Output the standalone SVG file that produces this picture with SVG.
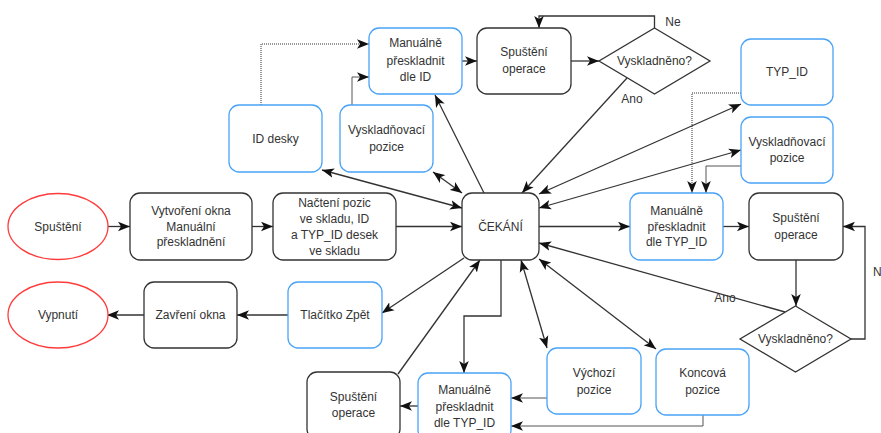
<svg xmlns="http://www.w3.org/2000/svg" width="881" height="433" viewBox="0 0 881 433">
  <style>
    .box { fill: #ffffff; stroke: #333333; stroke-width: 1.3; }
    .blue { fill: #ffffff; stroke: #4aa3f7; stroke-width: 1.3; }
    .red { fill: #ffffff; stroke: #ff3b3b; stroke-width: 1.3; }
    .t { font-family: "Liberation Sans", Arial, sans-serif; font-size: 12px; fill: #333333; text-anchor: middle; }
    .c { fill: none; stroke: #333333; stroke-width: 1.3; }
    .thin { fill: none; stroke: #555555; stroke-width: 1; }
    .dot { fill: none; stroke: #333333; stroke-width: 1; stroke-dasharray: 1 1; }
  </style>
  <defs>
    <marker id="arr" markerUnits="userSpaceOnUse" markerWidth="12" markerHeight="10" viewBox="0 0 10 8" refX="10" refY="4" orient="auto-start-reverse">
      <path d="M0,0 L10,4 L0,8 L2.5,4 Z" fill="#111111"/>
    </marker>
  </defs>
  <rect width="881" height="433" fill="#ffffff"/>

  <!-- connectors -->
  <g id="connectors">
    <path class="c" d="M108,226.5 H130" marker-end="url(#arr)"/>
    <path class="c" d="M252,226.5 H273" marker-end="url(#arr)"/>
    <path class="c" d="M396,226.5 H462" marker-end="url(#arr)"/>
    <path class="c" d="M288,315 H237" marker-end="url(#arr)"/>
    <path class="c" d="M144,315 H107" marker-end="url(#arr)"/>
    <path class="c" d="M539,226.5 H630" marker-end="url(#arr)"/>
    <path class="c" d="M723,226.5 H749" marker-end="url(#arr)"/>
    <path class="c" d="M796,260 V306" marker-end="url(#arr)"/>
    <path class="c" d="M851,339 H865 V226.5 H843" marker-end="url(#arr)"/>
    <path class="c" d="M785,312 L539,243" marker-end="url(#arr)"/>
    <path class="c" d="M462,61 H477" marker-end="url(#arr)"/>
    <path class="c" d="M571,61 H599" marker-end="url(#arr)"/>
    <path class="c" d="M654.5,28 V16 H539 V28" marker-end="url(#arr)"/>
    <path class="c" d="M627,78 L522,193" marker-end="url(#arr)"/>
    <path class="dot" d="M261,105 V44 H369" marker-end="url(#arr)"/>
    <path class="thin" d="M352,105 V77 H369" marker-end="url(#arr)"/>
    <path class="dot" d="M741,93 H692 V193" marker-end="url(#arr)"/>
    <path class="thin" d="M741,166 H706 V193" marker-end="url(#arr)"/>
    <path class="c" d="M484,193 L435,95" marker-end="url(#arr)"/>
    <path class="c" d="M322,170 L462,208" marker-start="url(#arr)" marker-end="url(#arr)"/>
    <path class="c" d="M433,172 L462,193" marker-start="url(#arr)" marker-end="url(#arr)"/>
    <path class="c" d="M539,194 L741,104" marker-start="url(#arr)" marker-end="url(#arr)"/>
    <path class="c" d="M539,208 L741,150" marker-start="url(#arr)" marker-end="url(#arr)"/>
    <path class="c" d="M521,260 L547,348" marker-start="url(#arr)" marker-end="url(#arr)"/>
    <path class="c" d="M539,259 L656,349" marker-start="url(#arr)" marker-end="url(#arr)"/>
    <path class="c" d="M464,258 L382,313" marker-end="url(#arr)"/>
    <path class="c" d="M398,374 L480,260" marker-end="url(#arr)"/>
    <path class="c" d="M501,260 V316 H464 V373" marker-end="url(#arr)"/>
    <path class="thin" d="M547,398 H511" marker-end="url(#arr)"/>
    <path class="thin" d="M703,415 V426 H511" marker-end="url(#arr)"/>
    <path class="c" d="M418,406 H400" marker-end="url(#arr)"/>
    <text class="t" x="673" y="26">Ne</text>
    <text class="t" x="632" y="103">Ano</text>
    <text class="t" x="725" y="302">Ano</text>
    <text class="t" x="873" y="276" style="text-anchor: start">Ne</text>
  </g>

  <!-- nodes -->
  <g id="spusteni">
    <ellipse class="red" cx="58" cy="226.5" rx="50" ry="33"/>
    <text class="t" x="58" y="230.5">Spuštění</text>
  </g>
  <g id="vytvoreni-okna">
    <rect class="box" x="130" y="193" width="122" height="67" rx="10"/>
    <text class="t" x="191" y="215">Vytvoření okna</text>
    <text class="t" x="191" y="230.5">Manuální</text>
    <text class="t" x="191" y="246">přeskladnění</text>
  </g>
  <g id="nacteni-pozic">
    <rect class="box" x="273" y="193" width="123" height="67" rx="10"/>
    <text class="t" x="334.5" y="207">Načtení pozic</text>
    <text class="t" x="334.5" y="222.5">ve skladu, ID</text>
    <text class="t" x="334.5" y="239">a TYP_ID desek</text>
    <text class="t" x="334.5" y="255">ve skladu</text>
  </g>
  <g id="vypnuti">
    <ellipse class="red" cx="58" cy="315" rx="50" ry="33"/>
    <text class="t" x="58" y="319">Vypnutí</text>
  </g>
  <g id="zavreni-okna">
    <rect class="box" x="144" y="282" width="93" height="66" rx="10"/>
    <text class="t" x="190.5" y="319">Zavření okna</text>
  </g>
  <g id="tlacitko-zpet">
    <rect class="blue" x="288" y="282" width="94" height="66" rx="10"/>
    <text class="t" x="335" y="319">Tlačítko Zpět</text>
  </g>
  <g id="cekani">
    <rect class="box" x="462" y="193" width="77" height="67" rx="10"/>
    <text class="t" x="500.5" y="230.5">ČEKÁNÍ</text>
  </g>
  <g id="manualne-typ-id">
    <rect class="blue" x="630" y="193" width="93" height="67" rx="10"/>
    <text class="t" x="676.5" y="215">Manuálně</text>
    <text class="t" x="676.5" y="230.5">přeskladnit</text>
    <text class="t" x="676.5" y="246">dle TYP_ID</text>
  </g>
  <g id="spusteni-operace-prava">
    <rect class="box" x="749" y="193" width="94" height="67" rx="10"/>
    <text class="t" x="796" y="222">Spuštění</text>
    <text class="t" x="796" y="239">operace</text>
  </g>
  <g id="vyskladneno-prave">
    <polygon class="box" points="795.5,306 851,339 795.5,372 740,339"/>
    <text class="t" x="795.5" y="343">Vyskladněno?</text>
  </g>
  <g id="manualne-id">
    <rect class="blue" x="369" y="28" width="93" height="66" rx="10"/>
    <text class="t" x="415.5" y="47">Manuálně</text>
    <text class="t" x="415.5" y="65">přeskladnit</text>
    <text class="t" x="415.5" y="81">dle ID</text>
  </g>
  <g id="spusteni-operace-horni">
    <rect class="box" x="477" y="28" width="94" height="66" rx="10"/>
    <text class="t" x="524" y="56">Spuštění</text>
    <text class="t" x="524" y="73">operace</text>
  </g>
  <g id="vyskladneno-horni">
    <polygon class="box" points="654.5,28 710,61 654.5,94 599,61"/>
    <text class="t" x="654.5" y="65">Vyskladněno?</text>
  </g>
  <g id="id-desky">
    <rect class="blue" x="229" y="105" width="93" height="67" rx="10"/>
    <text class="t" x="275.5" y="142.5">ID desky</text>
  </g>
  <g id="vyskladnovaci-pozice-leva">
    <rect class="blue" x="340" y="105" width="93" height="67" rx="10"/>
    <text class="t" x="386.5" y="134">Vyskladňovací</text>
    <text class="t" x="386.5" y="151">pozice</text>
  </g>
  <g id="typ-id">
    <rect class="blue" x="741" y="39" width="92" height="66" rx="10"/>
    <text class="t" x="787" y="76">TYP_ID</text>
  </g>
  <g id="vyskladnovaci-pozice-prava">
    <rect class="blue" x="741" y="117" width="92" height="66" rx="10"/>
    <text class="t" x="787" y="146">Vyskladňovací</text>
    <text class="t" x="787" y="162">pozice</text>
  </g>
  <g id="vychozi-pozice">
    <rect class="blue" x="547" y="348" width="94" height="66" rx="10"/>
    <text class="t" x="594" y="377">Výchozí</text>
    <text class="t" x="594" y="394">pozice</text>
  </g>
  <g id="koncova-pozice">
    <rect class="blue" x="656" y="349" width="93" height="66" rx="10"/>
    <text class="t" x="702.5" y="377">Koncová</text>
    <text class="t" x="702.5" y="394">pozice</text>
  </g>
  <g id="manualne-typ-id-dolni">
    <rect class="blue" x="418" y="373" width="93" height="67" rx="10"/>
    <text class="t" x="464.5" y="394">Manuálně</text>
    <text class="t" x="464.5" y="411">přeskladnit</text>
    <text class="t" x="464.5" y="427">dle TYP_ID</text>
  </g>
  <g id="spusteni-operace-dolni">
    <rect class="box" x="307" y="372" width="93" height="67" rx="10"/>
    <text class="t" x="353.5" y="401">Spuštění</text>
    <text class="t" x="353.5" y="417">operace</text>
  </g>
</svg>
